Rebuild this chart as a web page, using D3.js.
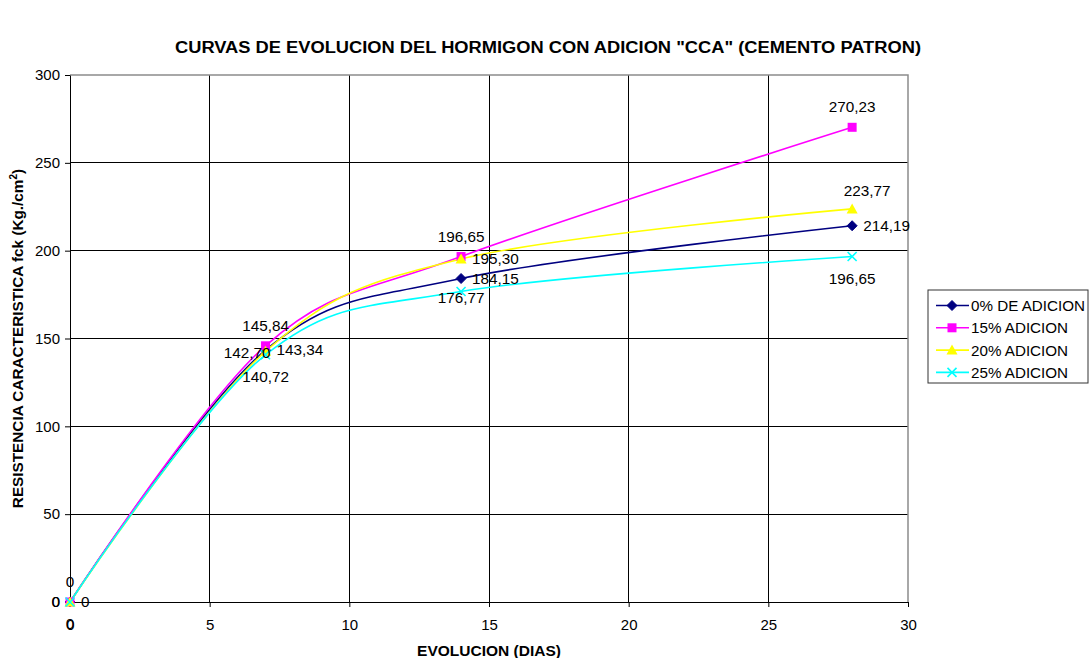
<!DOCTYPE html>
<html>
<head>
<meta charset="utf-8">
<script src="https://cdn.jsdelivr.net/npm/d3@7"></script>
<style>
  html, body { margin: 0; padding: 0; background: #fff; }
  svg { display: block; font-family: "Liberation Sans", Arial, sans-serif; }
</style>
</head>
<body>
<svg id="chart" width="1092" height="658"></svg>
<script>
// Ages of the test specimens (days)
const days = [0, 7, 14, 28];

// Characteristic strength fck (Kg/cm2) per ash addition
const serieNames = ["0% DE ADICION", "15% ADICION", "20% ADICION", "25% ADICION"];
const adicion0  = [0, 143.34, 184.15, 214.19];
const adicion15 = [0, 145.84, 196.65, 270.23];
const adicion20 = [0, 142.70, 195.30, 223.77];
const adicion25 = [0, 140.72, 176.77, 196.65];

const xTicks = [0, 5, 10, 15, 20, 25, 30];
const yTicks = [0, 50, 100, 150, 200, 250, 300];

const seriesValues = [adicion0, adicion15, adicion20, adicion25];
const colors  = ["#000080", "#FF00FF", "#FFFF00", "#00FFFF"];
const symbols = ["diamond", "square", "triangle", "cross"];

// where each value label sits relative to its marker
const labelPlace = [
  ["right", "right", "right", "right"],
  ["above", "above", "above", "above"],
  ["left", "leftLow", "right", "aboveRight"],
  ["below", "below", "belowNear", "below"]
];

const svg = d3.select("#chart");
const margin = { left: 70, right: 184, top: 75, bottom: 56 };
const W = 1092, H = 658;
const x = d3.scaleLinear().domain([0, 30]).range([margin.left, W - margin.right]);
const y = d3.scaleLinear().domain([0, 300]).range([H - margin.bottom, margin.top]);

// title
svg.append("text")
  .attr("x", 548).attr("y", 53)
  .attr("text-anchor", "middle")
  .attr("font-size", 16).attr("font-weight", "bold")
  .attr("textLength", 746).attr("lengthAdjust", "spacingAndGlyphs")
  .text('CURVAS DE EVOLUCION DEL HORMIGON CON ADICION "CCA" (CEMENTO PATRON)');

// gridlines
const grid = svg.append("g");
grid.selectAll("line.h").data(yTicks.filter(v => v > 0 && v < 300)).join("line")
  .attr("x1", x(0)).attr("x2", x(30))
  .attr("y1", d => y(d)).attr("y2", d => y(d))
  .attr("stroke", "#000").attr("stroke-width", 1).attr("shape-rendering", "crispEdges");
grid.selectAll("line.v").data(xTicks.filter(v => v > 0 && v < 30)).join("line")
  .attr("y1", y(0)).attr("y2", y(300))
  .attr("x1", d => x(d)).attr("x2", d => x(d))
  .attr("stroke", "#000").attr("stroke-width", 1).attr("shape-rendering", "crispEdges");

// plot frame (top and right)
svg.append("path")
  .attr("d", `M${x(0)},${y(300)}H${x(30)}V${y(0)}`)
  .attr("fill", "none").attr("stroke", "#8c8c8c").attr("stroke-width", 1.5);

// axes
const xAxis = d3.axisBottom(x).tickValues(xTicks).tickSize(5).tickSizeOuter(0).tickPadding(12);
const yAxis = d3.axisLeft(y).tickValues(yTicks).tickSize(5).tickSizeOuter(0).tickPadding(5);
const gx = svg.append("g").attr("transform", `translate(0,${y(0)})`).call(xAxis);
const gy = svg.append("g").attr("transform", `translate(${x(0)},0)`).call(yAxis);
[gx, gy].forEach(g => {
  g.select(".domain").attr("stroke", "#000");
  g.selectAll(".tick line").attr("stroke", "#000");
  g.selectAll(".tick text").attr("font-size", 15).attr("fill", "#000")
    .attr("font-family", "Liberation Sans, Arial, sans-serif");
});

// axis titles
svg.append("text")
  .attr("x", x(15)).attr("y", 656)
  .attr("text-anchor", "middle").attr("font-size", 15.5).attr("font-weight", "bold")
  .text("EVOLUCION (DIAS)");
const yt = svg.append("text")
  .attr("transform", `translate(23,${y(150)}) rotate(-90)`)
  .attr("text-anchor", "middle").attr("font-size", 15.3).attr("font-weight", "bold");
yt.append("tspan").text("RESISTENCIA CARACTERISTICA fck (Kg./cm");
yt.append("tspan").attr("font-size", 10).attr("dy", -6).text("2");
yt.append("tspan").attr("dy", 6).text(")");

// smoothed lines
const line = d3.line().x(d => x(d.day)).y(d => y(d.v)).curve(d3.curveCardinal.tension(0));
const series = seriesValues.map((vals, i) => ({
  name: serieNames[i], color: colors[i], symbol: symbols[i],
  pts: days.map((d, j) => ({ day: d, v: vals[j], place: labelPlace[i][j] }))
}));

svg.append("g").selectAll("path").data(series).join("path")
  .attr("d", s => line(s.pts))
  .attr("fill", "none").attr("stroke", s => s.color).attr("stroke-width", 1.6);

function marker(g, sym, color) {
  if (sym === "diamond") {
    g.append("path").attr("d", "M0,-5L5,0L0,5L-5,0Z").attr("fill", color).attr("stroke", color);
  } else if (sym === "square") {
    g.append("rect").attr("x", -4.5).attr("y", -4.5).attr("width", 9).attr("height", 9)
      .attr("fill", color);
  } else if (sym === "triangle") {
    g.append("path").attr("d", "M0,-5.5L5.5,4.5L-5.5,4.5Z").attr("fill", color);
  } else {
    g.append("path").attr("d", "M-4.5,-4.5L4.5,4.5M4.5,-4.5L-4.5,4.5")
      .attr("stroke", color).attr("stroke-width", 1.6);
  }
}

series.forEach(s => {
  s.pts.forEach(p => {
    const g = svg.append("g").attr("transform", `translate(${x(p.day)},${y(p.v)})`);
    marker(g, s.symbol, s.color);
  });
});

// value labels
const fmt = v => v === 0 ? "0" : d3.format(".2f")(v).replace(".", ",");
const offsets = {
  above:      { dx: 0,   dy: -15, anchor: "middle" },
  aboveRight: { dx: 15,  dy: -13, anchor: "middle" },
  right:      { dx: 11,  dy: 5,   anchor: "start" },
  left:       { dx: -10, dy: 5,   anchor: "end" },
  leftLow:    { dx: 5,   dy: 7,   anchor: "end" },
  below:      { dx: 0,   dy: 27,  anchor: "middle" },
  belowNear:  { dx: 0,   dy: 12,  anchor: "middle" }
};
series.forEach(s => {
  s.pts.forEach(p => {
    const o = offsets[p.place];
    svg.append("text")
      .attr("x", x(p.day) + o.dx).attr("y", y(p.v) + o.dy)
      .attr("text-anchor", o.anchor).attr("font-size", 15.3).attr("fill", "#000")
      .text(fmt(p.v));
  });
});

// legend
const lg = svg.append("g").attr("transform", "translate(928,290)");
lg.append("rect").attr("width", 160).attr("height", 93)
  .attr("fill", "#fff").attr("stroke", "#333").attr("stroke-width", 1);
series.forEach((s, i) => {
  const row = lg.append("g").attr("transform", `translate(0,${15.5 + i * 22.3})`);
  row.append("line").attr("x1", 8).attr("x2", 41).attr("stroke", s.color).attr("stroke-width", 1.6);
  marker(row.append("g").attr("transform", "translate(24,0)"), s.symbol, s.color);
  row.append("text").attr("x", 43).attr("y", 5.5).attr("font-size", 15.2).text(s.name);
});
</script>
</body>
</html>
